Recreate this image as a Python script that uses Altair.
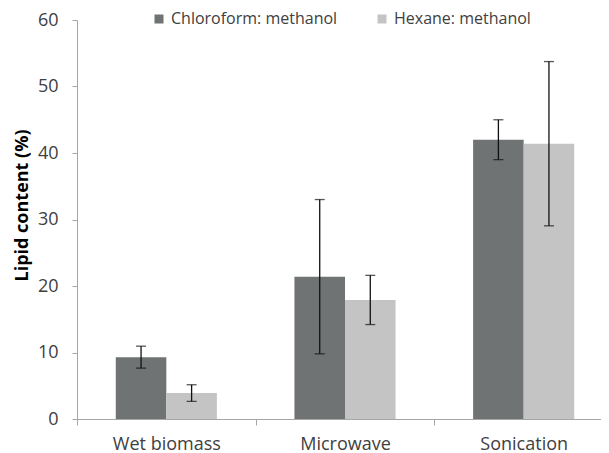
import altair as alt
import pandas as pd

categories = ["Wet biomass", "Microwave", "Sonication"]
series = ["Chloroform: methanol", "Hexane: methanol"]
chloroform_mean = [9.3, 21.4, 42.0]
chloroform_err = [1.65, 11.6, 3.0]
hexane_mean = [3.9, 17.9, 41.4]
hexane_err = [1.25, 3.7, 12.35]
colors = ["#6f7373", "#c4c4c4"]
y_ticks = [0, 10, 20, 30, 40, 50, 60]

rows = []
for s, means, errs in [(series[0], chloroform_mean, chloroform_err),
                       (series[1], hexane_mean, hexane_err)]:
    for c, m, e in zip(categories, means, errs):
        rows.append({"method": c, "solvent": s, "value": m, "lo": m - e, "hi": m + e})
df = pd.DataFrame(rows)

FONT = "Open Sans"
GRAY = "#a6a6a6"

base = alt.Chart(df).encode(
    x=alt.X(
        "method:N",
        sort=categories,
        scale=alt.Scale(domain=categories, paddingInner=0, paddingOuter=0, range=[0, 536]),
        axis=alt.Axis(
            title=None, labelAngle=0, tickBand="extent", tickSize=6,
            tickColor=GRAY, domainColor=GRAY, labelFont=FONT, labelFontSize=18,
            labelColor="#404040", labelPadding=10,
        ),
    ),
    xOffset=alt.XOffset(
        "solvent:N", sort=series,
        scale=alt.Scale(domain=series, paddingInner=0, paddingOuter=0.767),
    ),
)

bars = base.mark_bar().encode(
    y=alt.Y(
        "value:Q",
        scale=alt.Scale(domain=[0, 60], nice=False),
        axis=alt.Axis(
            values=y_ticks, grid=False, tickSize=5, tickColor=GRAY, domainColor=GRAY,
            labelFont=FONT, labelFontSize=18, labelColor="#404040", labelPadding=14,
            title="Lipid content (%)", titleFont=FONT, titleFontSize=18,
            titleFontWeight="bold", titleColor="#000000", titleAngle=270,
            titleX=-50, titleY=185, titleAlign="center", titleBaseline="alphabetic",
        ),
    ),
    color=alt.Color(
        "solvent:N",
        scale=alt.Scale(domain=series, range=colors),
        legend=alt.Legend(
            title=None, orient="none", legendX=74, legendY=-9, direction="horizontal",
            symbolType="square", symbolSize=81, symbolStrokeWidth=0,
            labelFont=FONT, labelFontSize=16, labelColor="#404040",
            columnPadding=36, labelOffset=4, padding=0, labelLimit=0,
        ),
    ),
)

rules = base.mark_rule(color="#111111", strokeWidth=1.3).encode(y="lo:Q", y2="hi:Q")
caps_hi = base.mark_tick(color="#111111", size=10, thickness=1.3).encode(y="hi:Q")
caps_lo = base.mark_tick(color="#111111", size=10, thickness=1.3).encode(y="lo:Q")

chart = alt.layer(bars, rules, caps_hi, caps_lo).properties(
    width=524,
    height=399,
    autosize=alt.AutoSizeParams(type="none"),
    padding={"left": 69, "top": 12, "right": 0, "bottom": 34},
).configure_view(stroke=None)

chart.save("out.html", embed_options={"renderer": "svg", "actions": False})
